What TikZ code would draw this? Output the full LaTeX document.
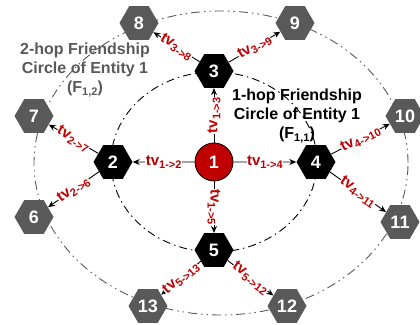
\documentclass[tikz,border=0pt]{standalone}
\usepackage{fontspec}
\setmainfont{Liberation Sans}
\usetikzlibrary{arrows.meta,shapes.geometric}
\definecolor{fcRed}{RGB}{192,0,0}
\definecolor{fcGray}{RGB}{89,89,89}
\newcommand{\tvlab}[1]{{\fontsize{15}{15}\selectfont tv}\raisebox{-3pt}{\fontsize{11}{11}\selectfont #1}}
\newcommand{\fsub}[1]{\raisebox{-3pt}{\fontsize{11}{11}\selectfont #1}}

\begin{document}
\begin{tikzpicture}[x=1pt, y=1pt,
    hop1/.style={regular polygon, regular polygon sides=6, fill=black, text=white,
                 minimum size=39pt, inner sep=0pt, font=\bfseries\fontsize{18}{18}\selectfont},
    hop2/.style={hop1, fill=fcGray},
    root/.style={circle, draw=black, fill=fcRed, text=white, minimum size=38pt,
                 inner sep=0pt, line width=0.8pt, font=\bfseries\fontsize{18}{18}\selectfont},
    arr/.style={-{Stealth[length=7pt,width=6pt]}, line width=0.9pt},
    lab/.style={fill=white, text=fcRed, inner sep=0.5pt, font=\bfseries},
    circ/.style={align=center, font=\bfseries\fontsize{16}{19}\selectfont}
  ]
  \useasboundingbox (0,0) rectangle (420,324);

  % friendship circles
  \draw[fcGray, line width=0.9pt, dash pattern=on 9pt off 4pt on 1.5pt off 4pt on 1.5pt off 4pt]
    (221,161) ellipse [x radius=187, y radius=152];
  \draw[black, line width=0.9pt, dash pattern=on 8pt off 4pt on 1.5pt off 4pt]
    (214,162) ellipse [x radius=103, y radius=90];

  \node[circ, text=fcGray] (c2) at (85,254) {2-hop Friendship\\Circle of Entity 1\\(F\fsub{1,2})};
  \node[circ, text=black] (c1) at (297,208) {1-hop Friendship\\Circle of Entity 1\\(F\fsub{1,1})};

  \node[root] (n1) at (214,162) {1};
  \node[hop1] (n2) at (113,162) {2};
  \node[hop1] (n3) at (214,253) {3};
  \node[hop1] (n4) at (316,162) {4};
  \node[hop1] (n5) at (214,74) {5};

  \node[hop2] (n6) at (34,107) {6};
  \node[hop2] (n7) at (34,208) {7};
  \node[hop2] (n8) at (139,301) {8};
  \node[hop2] (n9) at (295,301) {9};
  \node[hop2] (n10) at (405,208) {10};
  \node[hop2] (n11) at (400,102) {11};
  \node[hop2] (n12) at (287,18) {12};
  \node[hop2] (n13) at (148,18) {13};

  % trust values
  \draw[arr] (n1) -- node[lab] {\tvlab{1->2}} (n2);
  \draw[arr] (n1) -- node[lab, rotate=90] {\tvlab{1->3}} (n3);
  \draw[arr] (n1) -- node[lab] {\tvlab{1->4}} (n4);
  \draw[arr] (n1) -- node[lab, rotate=-90] {\tvlab{1->5}} (n5);

  \draw[arr] (n2) -- node[lab, sloped] {\tvlab{2->7}} (n7);
  \draw[arr] (n2) -- node[lab, sloped] {\tvlab{2->6}} (n6);
  \draw[arr] (n3) -- node[lab, sloped] {\tvlab{3->8}} (n8);
  \draw[arr] (n3) -- node[lab, sloped] {\tvlab{3->9}} (n9);
  \draw[arr] (n4) -- node[lab, sloped] {\tvlab{4->10}} (n10);
  \draw[arr] (n4) -- node[lab, sloped] {\tvlab{4->11}} (n11);
  \draw[arr] (n5) -- node[lab, sloped] {\tvlab{5->13}} (n13);
  \draw[arr] (n5) -- node[lab, sloped] {\tvlab{5->12}} (n12);
\end{tikzpicture}
\end{document}
